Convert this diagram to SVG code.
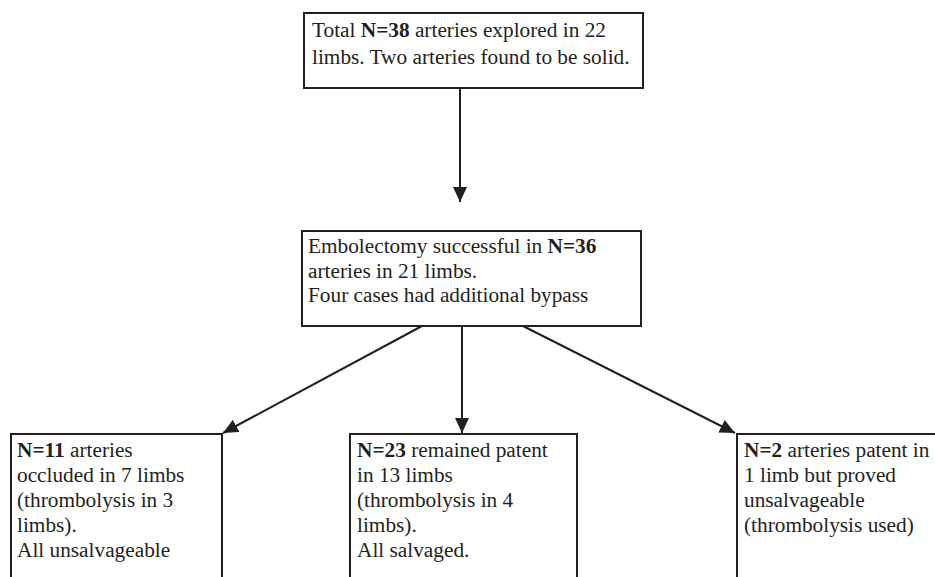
<svg xmlns="http://www.w3.org/2000/svg" width="935" height="577" viewBox="0 0 935 577">
<style>
.box{fill:#fff;stroke:#231f20;stroke-width:2}
.t{font-family:"Liberation Serif","Times New Roman",serif;font-size:21.3px;fill:#231f20}
.b{font-weight:bold}
.c{stroke:#231f20;stroke-width:2;fill:none}
</style>
<defs>
<marker id="ah" markerUnits="userSpaceOnUse" markerWidth="16" markerHeight="16" refX="15" refY="7" orient="auto">
<path d="M0,0 L15,7 L0,14 Z" fill="#231f20"/>
</marker>
</defs>
<rect width="935" height="577" fill="#fff"/>
<g id="connectors">
<line class="c" x1="460" y1="89" x2="460" y2="202" marker-end="url(#ah)"/>
<line class="c" x1="422" y1="326" x2="223" y2="433" marker-end="url(#ah)"/>
<line class="c" x1="462" y1="326" x2="462" y2="433" marker-end="url(#ah)"/>
<line class="c" x1="523" y1="326" x2="735" y2="433" marker-end="url(#ah)"/>
</g>
<g id="n1">
<rect class="box" x="304" y="13" width="339" height="75"/>
<text class="t" x="312" y="37">Total <tspan class="b">N=38</tspan> arteries explored in 22</text>
<text class="t" x="312" y="64">limbs. Two arteries found to be solid.</text>
</g>
<g id="n2">
<rect class="box" x="302" y="231" width="339" height="95"/>
<text class="t" x="308" y="253">Embolectomy successful in <tspan class="b">N=36</tspan></text>
<text class="t" x="308" y="278">arteries in 21 limbs.</text>
<text class="t" x="308" y="302">Four cases had additional bypass</text>
</g>
<g id="n3">
<rect class="box" x="11" y="434" width="211" height="170"/>
<text class="t" x="17" y="457"><tspan class="b">N=11</tspan> arteries</text>
<text class="t" x="17" y="482">occluded in 7 limbs</text>
<text class="t" x="17" y="507">(thrombolysis in 3</text>
<text class="t" x="17" y="532">limbs).</text>
<text class="t" x="17" y="557">All unsalvageable</text>
</g>
<g id="n4">
<rect class="box" x="350" y="434" width="227" height="170"/>
<text class="t" x="357" y="457"><tspan class="b">N=23</tspan> remained patent</text>
<text class="t" x="357" y="482">in 13 limbs</text>
<text class="t" x="357" y="507">(thrombolysis in 4</text>
<text class="t" x="357" y="532">limbs).</text>
<text class="t" x="357" y="557">All salvaged.</text>
</g>
<g id="n5">
<rect class="box" x="737" y="434" width="230" height="170"/>
<text class="t" x="744" y="457"><tspan class="b">N=2</tspan> arteries patent in</text>
<text class="t" x="744" y="482">1 limb but proved</text>
<text class="t" x="744" y="507">unsalvageable</text>
<text class="t" x="744" y="532">(thrombolysis used)</text>
</g>
</svg>
